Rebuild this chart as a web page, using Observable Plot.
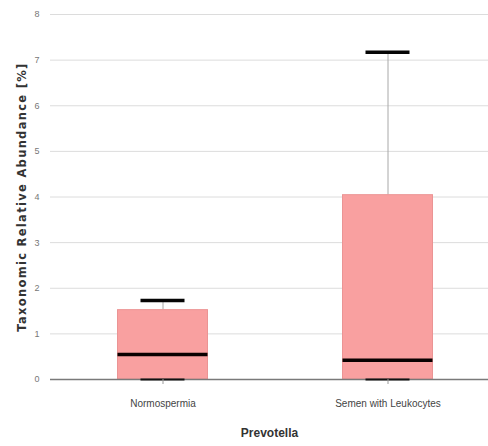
<!DOCTYPE html>
<html>
<head>
<meta charset="utf-8">
<script src="https://cdn.jsdelivr.net/npm/d3@7"></script>
<script src="https://cdn.jsdelivr.net/npm/@observablehq/plot@0.6"></script>
<style>
  html, body { margin: 0; padding: 0; background: #fff; overflow: hidden; }
  #chart svg { overflow: visible; max-width: none; }
</style>
</head>
<body>
<div id="chart"></div>
<script>
const categories = ["Normospermia", "Semen with Leukocytes"];
const whiskerLow = [0, 0];
const q1 = [0, 0];
const median = [0.55, 0.42];
const q3 = [1.52, 4.04];
const whiskerHigh = [1.73, 7.17];
const yTicks = [0, 1, 2, 3, 4, 5, 6, 7, 8];
const xTitle = "Prevotella";
const yTitle = "Taxonomic Relative Abundance [%]";

const rows = categories.map((c, i) => ({
  cat: c, lo: whiskerLow[i], q1: q1[i], med: median[i], q3: q3[i], hi: whiskerHigh[i]
}));

const chart = Plot.plot({
  width: 488,
  height: 446,
  marginLeft: 50,
  marginRight: 0,
  marginTop: 14,
  marginBottom: 67,
  style: { fontFamily: "Liberation Sans, Arial, sans-serif", fontSize: "10px", background: "#fff", overflow: "visible" },
  x: { domain: categories, range: [50, 500], padding: 0 },
  y: { domain: [0, 8], ticks: yTicks },
  marks: [
    Plot.ruleY(yTicks.filter(d => d > 0), { stroke: "#dcdcdc", strokeWidth: 1 }),
    Plot.ruleX(rows, { x: "cat", y1: "q3", y2: "hi", stroke: "#a8a8a8", strokeWidth: 1 }),
    Plot.barY(rows, { x: "cat", y1: "q1", y2: "q3", fill: "#f9a0a0", stroke: "#eb9494", strokeWidth: 1, insetLeft: 67.5, insetRight: 67.5 }),
    Plot.ruleY([0], { stroke: "#7a7a7a", strokeWidth: 1.5 }),
    Plot.tickY(rows, { x: "cat", y: "lo", stroke: "#111", strokeWidth: 2, insetLeft: 90.5, insetRight: 90.5 }),
    Plot.tickY(rows, { x: "cat", y: "med", stroke: "#0a0000", strokeWidth: 3.5, insetLeft: 67.5, insetRight: 67.5 }),
    Plot.tickY(rows, { x: "cat", y: "hi", stroke: "#050505", strokeWidth: 3.5, insetLeft: 90.5, insetRight: 90.5 }),
    Plot.axisY({ ticks: yTicks, tickSize: 0, tickPadding: 11, fill: "#777", fontSize: 9,
      label: yTitle, labelAnchor: "center", labelArrow: "none", labelOffset: 33 }),
    Plot.axisX({ tickSize: 5, stroke: "#999", tickPadding: 15, fill: "#444", fontSize: 10,
      label: xTitle, labelAnchor: "center", labelArrow: "none", labelOffset: 57 })
  ]
});

chart.querySelectorAll("[aria-label='y-axis label'] text, [aria-label='y-axis label']").forEach(el => {
  el.setAttribute("font-weight", "bold");
  el.setAttribute("font-size", "11.5");
  el.setAttribute("letter-spacing", "1.3");
  el.setAttribute("fill", "#333");
  el.setAttribute("font-family", "DejaVu Sans, sans-serif");
});
chart.querySelectorAll("[aria-label='x-axis label'] text, [aria-label='x-axis label']").forEach(el => {
  el.setAttribute("font-weight", "bold");
  el.setAttribute("font-size", "12");
  el.setAttribute("fill", "#333");
});
document.getElementById("chart").appendChild(chart);
</script>
</body>
</html>
